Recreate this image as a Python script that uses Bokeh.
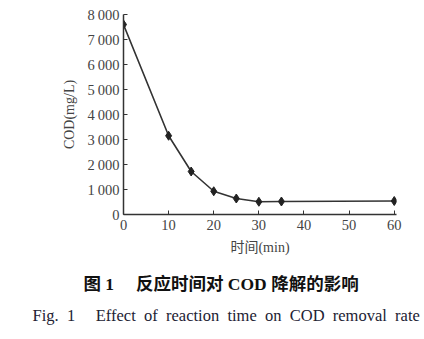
from bokeh.plotting import figure
from bokeh.models import FixedTicker, Title, Range1d
from bokeh.embed import file_html
from bokeh.resources import INLINE

time_min = [0, 10, 15, 20, 25, 30, 35, 60]
cod = [7600, 3150, 1720, 930, 640, 510, 520, 540]
y_ticks = [0, 1000, 2000, 3000, 4000, 5000, 6000, 7000, 8000]
y_tick_labels = ["0", "1\u2009000", "2\u2009000", "3\u2009000", "4\u2009000", "5\u2009000",
                 "6\u2009000", "7\u2009000", "8\u2009000"]
x_ticks = [0, 10, 20, 30, 40, 50, 60]
caption_cn = "图 1\u2003 反应时间对 COD 降解的影响"
caption_en = "Fig.\u20021\u2003 Effect\u2002of\u2002reaction\u2002time\u2002on\u2002COD\u2002removal\u2002rate"

FONT = "'Liberation Serif', 'Noto Sans CJK SC'"

p = figure(width=424, height=339, output_backend="svg", toolbar_location=None,
           x_range=Range1d(0, 60.5), y_range=Range1d(0, 8000),
           min_border_left=123, min_border_right=28, min_border_top=14, min_border_bottom=125)
p.outline_line_color = None
p.grid.visible = False
p.background_fill_color = "white"

p.line(time_min, cod, line_color="#333333", line_width=1.6)
p.scatter(time_min, cod, marker="diamond", size=9, fill_color="#222222", line_color="#222222")

for ax in (p.xaxis[0], p.yaxis[0]):
    ax.axis_line_color = "#333333"
    ax.axis_line_width = 1.5
    ax.major_tick_line_color = "#333333"
    ax.major_tick_in = 4
    ax.major_tick_out = 0
    ax.minor_tick_line_color = None
    ax.major_label_text_font = FONT
    ax.major_label_text_font_size = "14.5px"
    ax.major_label_text_color = "#444444"
    ax.axis_label_text_font = FONT
    ax.axis_label_text_font_size = "14px"
    ax.axis_label_text_font_style = "normal"
    ax.axis_label_text_color = "#444444"

p.yaxis.ticker = FixedTicker(ticks=y_ticks)
p.yaxis.major_label_overrides = dict(zip(y_ticks, y_tick_labels))
p.yaxis.axis_label = "COD(mg/L)"
p.yaxis.major_label_standoff = 4
p.yaxis.axis_label_standoff = 8
p.xaxis.ticker = FixedTicker(ticks=x_ticks)
p.xaxis.axis_label = "时间(min)"
p.xaxis.major_label_standoff = 5
p.xaxis.axis_label_standoff = 7

p.add_layout(Title(text=caption_cn, align="left", offset=-40, standoff=28,
                   text_font=FONT, text_font_size="17.5px", text_font_style="bold",
                   text_color="#111111"), "below")
p.add_layout(Title(text=caption_en, align="left", offset=-91, standoff=-8,
                   text_font="Liberation Serif", text_font_size="16.5px",
                   text_font_style="normal", text_color="#222233"), "below")

open("out.html", "w").write(file_html(p, INLINE))
